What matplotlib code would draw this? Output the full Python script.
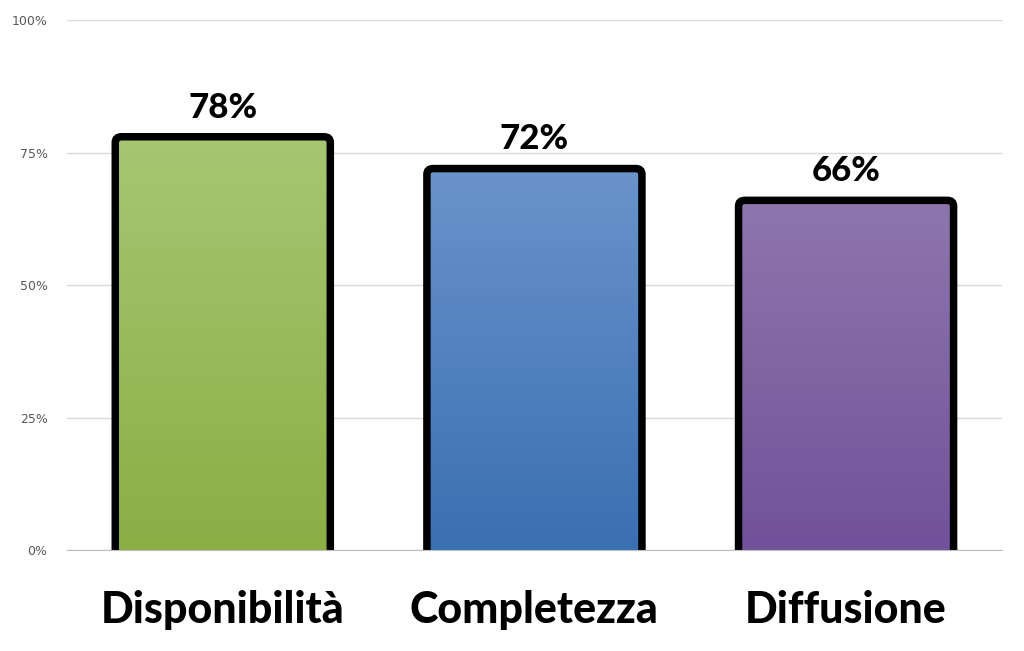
import numpy as np
import matplotlib.pyplot as plt
from matplotlib.patches import FancyBboxPatch
from matplotlib.colors import LinearSegmentedColormap

# dati
categorie = ["Disponibilità", "Completezza", "Diffusione"]
valori = [78, 72, 66]
colori_alto = ["#a8c672", "#6a93ca", "#8e76ad"]
colori_basso = ["#8bae45", "#3a6fb2", "#71529a"]
tick_y = [0, 25, 50, 75, 100]

fig = plt.figure(figsize=(10.24, 6.51), dpi=100)
ax = fig.add_axes([0.0654, 0.155, 0.913, 0.814])

larghezza = 0.69
for i, (v, c1, c2) in enumerate(zip(valori, colori_alto, colori_basso)):
    x0 = i - larghezza / 2
    # contorno con angoli arrotondati (il fondo finisce sotto l'asse)
    barra = FancyBboxPatch((x0, -10), larghezza, v + 10,
                           boxstyle="round,pad=0,rounding_size=0.02",
                           mutation_aspect=55,
                           facecolor="none", edgecolor="black",
                           linewidth=5.4, zorder=3)
    ax.add_patch(barra)
    # riempimento a gradiente
    cmap = LinearSegmentedColormap.from_list("g%d" % i, [c2, c1])
    grad = np.linspace(0, 1, 256).reshape(-1, 1)
    img = ax.imshow(grad, cmap=cmap, origin="lower", aspect="auto",
                    extent=(x0, x0 + larghezza, 0, v), zorder=2)
    img.set_clip_path(barra)
    ax.text(i, v + 2.5, "%d%%" % v, ha="center", va="bottom",
            fontsize=25, fontweight="black", family="Lato", color="black",
            zorder=5)

ax.set_xlim(-0.5, len(categorie) - 0.5)
ax.set_ylim(0, 100)
ax.set_yticks(tick_y)
ax.set_yticklabels(["%d%%" % t for t in tick_y], fontsize=9, color="#595959")
ax.set_xticks(range(len(categorie)))
ax.set_xticklabels(categorie, fontsize=31, fontweight="black", family="Lato")
ax.tick_params(axis="both", length=0)
ax.tick_params(axis="y", pad=14)
ax.tick_params(axis="x", pad=29)
ax.grid(axis="y", color="#d9d9d9", linewidth=1, zorder=0)
ax.set_axisbelow(True)
for s in ["top", "right", "left"]:
    ax.spines[s].set_visible(False)
ax.spines["bottom"].set_color("#bfbfbf")
ax.spines["bottom"].set_zorder(4)

fig.savefig("out.png", dpi=100)
